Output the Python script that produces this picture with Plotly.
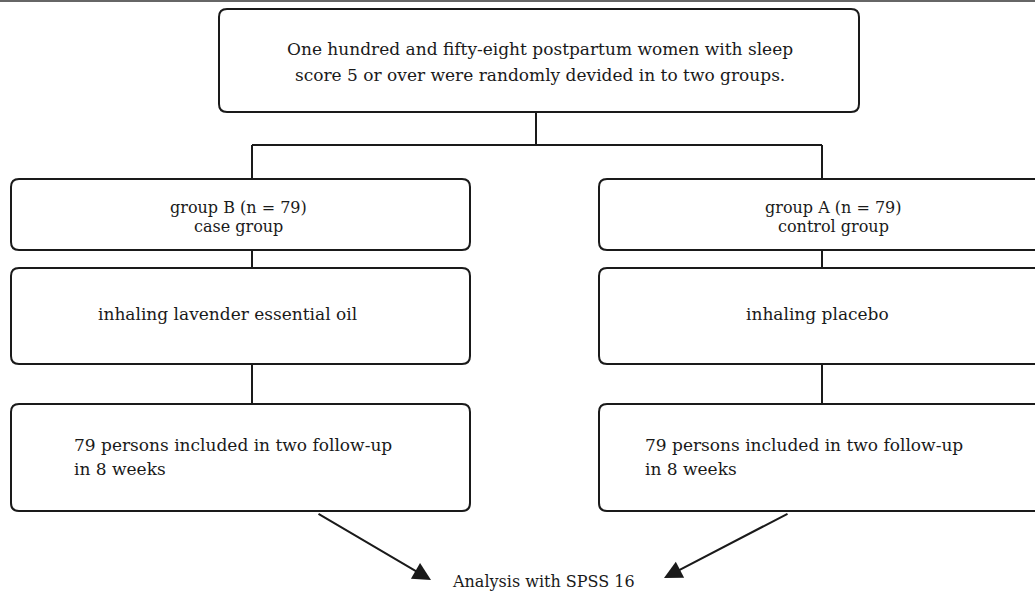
import plotly.graph_objects as go

# texts of the flowchart
top_lines = [
    "One hundred and fifty-eight postpartum women with sleep",
    "score 5 or over were randomly devided in to two groups.",
]
group_b_lines = ["group B (n = 79)", "case group"]
group_a_lines = ["group A (n = 79)", "control group"]
treat_b = "inhaling lavender essential oil"
treat_a = "inhaling placebo"
follow_b_lines = ["79 persons included in two follow-up", "in 8 weeks"]
follow_a_lines = ["79 persons included in two follow-up", "in 8 weeks"]
final_text = "Analysis with SPSS 16"

W, H = 1035, 594
FONT = "DejaVu Serif"
INK = "#1a1a1a"
LW = 2


def rrect(x0, y0, x1, y1, r=8):
    return (f"M{x0+r},{y0} L{x1-r},{y0} Q{x1},{y0} {x1},{y0+r} "
            f"L{x1},{y1-r} Q{x1},{y1} {x1-r},{y1} L{x0+r},{y1} "
            f"Q{x0},{y1} {x0},{y1-r} L{x0},{y0+r} Q{x0},{y0} {x0+r},{y0} Z")


fig = go.Figure()
shapes = []
annotations = []

# thin gray rule on top of the figure
shapes.append(dict(type="rect", x0=0, x1=W, y0=0, y1=2, fillcolor="#666666",
                   line=dict(width=0)))

# boxes
boxes = [
    (219, 9, 859, 112),     # top
    (11, 179, 470, 250),    # group B
    (599, 179, 1066, 250),  # group A
    (11, 268, 470, 364),    # treatment B
    (599, 268, 1066, 364),  # treatment A
    (11, 404, 470, 511),    # follow-up B
    (599, 404, 1066, 511),  # follow-up A
]
for x0, y0, x1, y1 in boxes:
    shapes.append(dict(type="path", path=rrect(x0, y0, x1, y1),
                       line=dict(color=INK, width=LW), fillcolor="rgba(0,0,0,0)"))

# connectors
lines = [
    (536, 112, 536, 145),
    (252, 145, 822, 145),
    (252, 145, 252, 179),
    (822, 145, 822, 179),
    (252, 250, 252, 268),
    (822, 250, 822, 268),
    (252, 364, 252, 404),
    (822, 364, 822, 404),
]
for x0, y0, x1, y1 in lines:
    shapes.append(dict(type="line", x0=x0, y0=y0, x1=x1, y1=y1,
                       line=dict(color=INK, width=LW)))


def label(text, x, y, size=17, anchor="center"):
    annotations.append(dict(text=text, x=x, y=y, xref="x", yref="y",
                            xanchor=anchor, yanchor="middle", showarrow=False,
                            font=dict(family=FONT, size=size, color=INK)))


label(top_lines[0], 540, 49, size=17)
label(top_lines[1], 540, 75, size=17)

label(group_b_lines[0], 238, 207, size=16)
label(group_b_lines[1], 238, 226, size=16)
label(group_a_lines[0], 833, 207, size=16)
label(group_a_lines[1], 833, 226, size=16)

label(treat_b, 227, 314)
label(treat_a, 817, 314)

label(follow_b_lines[0], 72, 445, anchor="left")
label(follow_b_lines[1], 72, 469, anchor="left")
label(follow_a_lines[0], 643, 445, anchor="left")
label(follow_a_lines[1], 643, 469, anchor="left")

label(final_text, 543, 581, size=16)

# arrows to the analysis label
for (tx, ty), (hx, hy) in [((317, 513), (431, 580)), ((789, 513), (664, 578))]:
    annotations.append(dict(x=hx, y=hy, ax=tx, ay=ty, xref="x", yref="y",
                            axref="x", ayref="y", text="", showarrow=True,
                            arrowhead=2, arrowsize=1.8, arrowwidth=2,
                            arrowcolor=INK))

fig.update_layout(
    width=W, height=H,
    margin=dict(l=0, r=0, t=0, b=0),
    paper_bgcolor="white", plot_bgcolor="white",
    xaxis=dict(range=[0, W], visible=False, fixedrange=True),
    yaxis=dict(range=[H, 0], visible=False, fixedrange=True),
    shapes=shapes,
    annotations=annotations,
    showlegend=False,
)

# drop the default page margin so the figure sits at the window corner
fig.write_html("out.html", config={"displayModeBar": False},
               post_script="document.body.style.margin='0';")
